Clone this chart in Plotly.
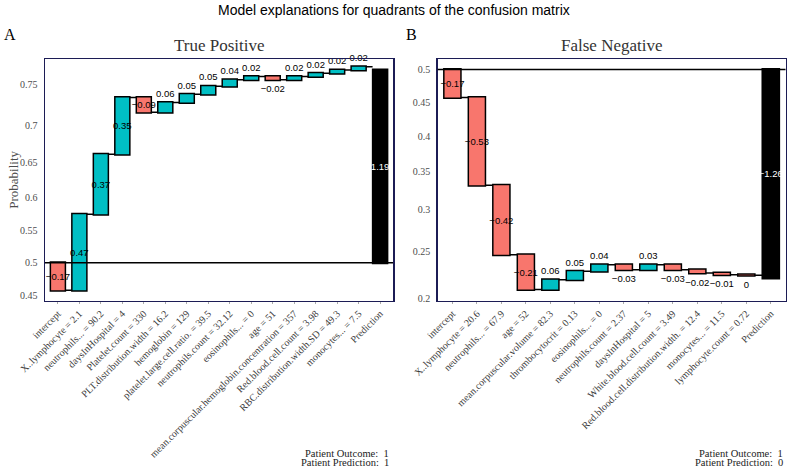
import numpy as np
import plotly.graph_objects as go

# ---------------- data ----------------
tp_features = ["intercept", "X..lymphocyte = 2.1", "neutrophils... = 90.2", "daysInHospital = 4",
               "Platelet.count = 330", "PLT.distribution.width = 16.2", "hemoglobin = 129",
               "platelet.large.cell.ratio. = 39.5", "neutrophils.count = 32.12", "eosinophils... = 0",
               "age = 51", "mean.corpuscular.hemoglobin.concentration = 357",
               "Red.blood.cell.count = 3.98", "RBC.distribution.width.SD = 49.3", "monocytes... = 7.5"]
tp_contrib = [-0.17, 0.47, 0.37, 0.35, -0.09, 0.06, 0.05, 0.05, 0.04, 0.02, -0.02, 0.02, 0.02, 0.02, 0.02]
tp_prediction = 1.19
tp_ticks = [0.45, 0.5, 0.55, 0.6, 0.65, 0.7, 0.75]

fn_features = ["intercept", "X..lymphocyte = 20.6", "neutrophils... = 67.9", "age = 52",
               "mean.corpuscular.volume = 82.3", "thrombocytocrit = 0.13", "eosinophils... = 0",
               "neutrophils.count = 2.37", "daysInHospital = 5", "White.blood.cell.count = 3.49",
               "Red.blood.cell.distribution.width. = 12.4", "monocytes... = 11.5",
               "lymphocyte.count = 0.72"]
fn_contrib = [-0.17, -0.53, -0.42, -0.21, 0.06, 0.05, 0.04, -0.03, 0.03, -0.03, -0.02, -0.01, -0.004]
fn_prediction = -1.26
fn_ticks = [0.2, 0.25, 0.3, 0.35, 0.4, 0.45, 0.5]

W, H = 787, 467
POS = "#00BFC4"
NEG = "#F8766D"
FRAME = "#1c1c55"
SERIF = "Liberation Serif, Times New Roman, serif"
SANS = "Liberation Sans, Arial, sans-serif"


def logit(p):
    p = np.asarray(p, dtype=float)
    return np.log(p / (1 - p))


def fmt(v):
    s = f"{round(v, 2) + 0:g}"
    return s.replace("-", "\u2212")


def waterfall(features, contrib, pred, xa, ya):
    cats = list(features) + ["Prediction"]
    vals = list(contrib) + [pred]
    measure = ["relative"] * len(contrib) + ["absolute"]
    text = [fmt(v) for v in vals]
    pos = ["inside" if abs(v) >= 0.085 else "outside" for v in contrib] + ["inside"]
    tcol = ["black"] * len(contrib) + ["white"]
    return go.Waterfall(
        x=cats, y=vals, measure=measure, base=0, width=0.7,
        text=text, textposition=pos, textangle=0, constraintext="none",
        insidetextanchor="middle", cliponaxis=False,
        textfont=dict(family=SANS, size=9.5, color=tcol),
        increasing=dict(marker=dict(color=POS, line=dict(color="black", width=1.5))),
        decreasing=dict(marker=dict(color=NEG, line=dict(color="black", width=1.5))),
        totals=dict(marker=dict(color="black", line=dict(color="black", width=1.5))),
        connector=dict(mode="between", line=dict(color="black", width=1.5)),
        xaxis=xa, yaxis=ya, showlegend=False, hoverinfo="skip",
    )


fig = go.Figure()
fig.add_trace(waterfall(tp_features, tp_contrib, tp_prediction, "x", "y"))
fig.add_trace(waterfall(fn_features, fn_contrib, fn_prediction, "x2", "y2"))

ydom = [1 - 300.5 / H, 1 - 59 / H]
axis_common = dict(showline=True, mirror=True, linecolor=FRAME, linewidth=1.5,
                   showgrid=False, zeroline=False, automargin=False, fixedrange=True)
xcommon = dict(axis_common, type="category", tickangle=-45,
               tickfont=dict(family=SERIF, size=10, color="#3a3a3a"),
               ticks="outside", ticklen=2, tickcolor="#aaaaaa")
ycommon = dict(axis_common, tickfont=dict(family=SERIF, size=10, color="#4d4d4d"),
               ticks="", ticklabelstandoff=4)

fig.update_layout(
    width=W, height=H, margin=dict(l=0, r=0, t=0, b=0, autoexpand=False),
    paper_bgcolor="white", plot_bgcolor="white", hovermode=False,
    xaxis=dict(xcommon, domain=[45 / W, 393 / W], range=[-0.6, len(tp_features) + 0.6], anchor="y"),
    yaxis=dict(ycommon, domain=ydom, range=[-0.233, 1.258], anchor="x",
               tickvals=logit(tp_ticks), ticktext=[f"{t:g}" for t in tp_ticks]),
    xaxis2=dict(xcommon, domain=[437.7 / W, 785.5 / W], range=[-0.6, len(fn_features) + 0.6], anchor="y2"),
    yaxis2=dict(ycommon, domain=ydom, range=[-1.396, 0.063], anchor="x2",
                tickvals=logit(fn_ticks), ticktext=[f"{t:g}" for t in fn_ticks]),
)

# reference line at probability 0.5
for xr, yr in (("x domain", "y"), ("x2 domain", "y2")):
    fig.add_shape(type="line", xref=xr, yref=yr, x0=0, x1=1, y0=0, y1=0,
                  line=dict(color="black", width=1.5), layer="above")

ann = [
    dict(text="Model explanations for quadrants of the confusion matrix", x=0.5, y=1 - 10 / H,
         font=dict(family=SANS, size=14, color="black"), xanchor="center", yanchor="middle"),
    dict(text="A", x=2 / W, y=1 - 34 / H, font=dict(family=SERIF, size=16, color="black"),
         xanchor="left", yanchor="middle"),
    dict(text="B", x=404 / W, y=1 - 34 / H, font=dict(family=SERIF, size=16, color="black"),
         xanchor="left", yanchor="middle"),
    dict(text="True Positive", x=219 / W, y=1 - 46 / H, font=dict(family=SERIF, size=17, color="#333333"),
         xanchor="center", yanchor="middle"),
    dict(text="False Negative", x=612 / W, y=1 - 46 / H, font=dict(family=SERIF, size=17, color="#333333"),
         xanchor="center", yanchor="middle"),
    dict(text="Probability", x=14 / W, y=(ydom[0] + ydom[1]) / 2, textangle=-90,
         font=dict(family=SERIF, size=13, color="#4d4d4d"), xanchor="center", yanchor="middle"),
]
for xr, outcome, predicted in ((391, 1, 1), (785, 1, 0)):
    ann.append(dict(text=f"Patient Outcome:  {outcome}", x=xr / W, y=1 - 453.5 / H,
                    font=dict(family=SERIF, size=10.5, color="#222222"), xanchor="right", yanchor="middle"))
    ann.append(dict(text=f"Patient Prediction:  {predicted}", x=xr / W, y=1 - 462.5 / H,
                    font=dict(family=SERIF, size=10.5, color="#222222"), xanchor="right", yanchor="middle"))
for a in ann:
    fig.add_annotation(xref="paper", yref="paper", showarrow=False, **a)

fig.write_html("out.html", config={"displayModeBar": False, "staticPlot": True},
               post_script="document.body.style.margin='0';document.body.style.overflow='hidden';")
